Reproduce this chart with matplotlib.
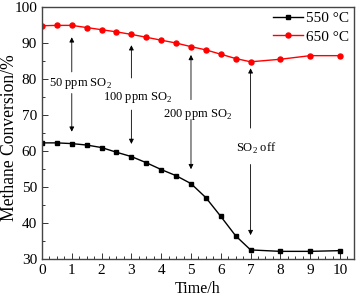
import matplotlib
matplotlib.use("Agg")
import matplotlib.pyplot as plt
from matplotlib.ticker import MultipleLocator

plt.rcParams['font.family'] = ['Liberation Serif', 'DejaVu Serif']
plt.rcParams['mathtext.fontset'] = 'custom'
plt.rcParams['mathtext.rm'] = 'Liberation Serif'

time_h = [0, 0.5, 1, 1.5, 2, 2.5, 3, 3.5, 4, 4.5, 5, 5.5, 6, 6.5, 7, 8, 9, 10]
conv_550 = [62.3, 62.3, 62.1, 61.7, 61.0, 59.7, 58.5, 56.8, 54.9, 53.2, 51.0, 47.1, 41.9, 36.5, 32.6, 32.2, 32.2, 32.4]
conv_650 = [94.8, 94.9, 94.9, 94.3, 93.7, 93.1, 92.4, 91.6, 90.8, 90.0, 89.0, 88.1, 86.9, 85.7, 84.8, 85.5, 86.5, 86.5]

labels = ['50 ppm SO$_2$', '100 ppm SO$_2$', '200 ppm SO$_2$', 'SO$_2$ off']
arrow_x = [1, 3, 5, 7]
text_xy = [(1.28, 78.1), (3.2, 74.2), (5.22, 69.4), (7.2, 59.8)]
up_from = [82.0, 80.3, 74.3, 66.4]
up_to = [91.6, 89.4, 86.7, 83.0]
down_from = [76.0, 71.4, 68.8, 56.3]
down_to = [65.4, 62.0, 55.0, 36.7]

fig = plt.figure(figsize=(3.57, 2.98), dpi=100)
ax = fig.add_axes([0.1176, 0.1299, 0.8740, 0.8466])

ax.plot(time_h, conv_550, color='black', marker='s', markersize=3.4, lw=1.0, label='550 °C')
ax.plot(time_h, conv_650, color='red', marker='o', markersize=3.6, lw=1.0, label='650 °C')

for x, lab, (tx, ty), uf, ut, df, dt in zip(arrow_x, labels, text_xy, up_from, up_to, down_from, down_to):
    ax.text(tx, ty, lab, ha='center', va='baseline', fontsize=9)
    ax.annotate('', xy=(x, ut), xytext=(x, uf),
                arrowprops=dict(arrowstyle='-|>', color='black', lw=0.6, mutation_scale=7, shrinkA=0, shrinkB=0))
    ax.annotate('', xy=(x, dt), xytext=(x, df),
                arrowprops=dict(arrowstyle='-|>', color='black', lw=0.6, mutation_scale=7, shrinkA=0, shrinkB=0))

ax.set_xlim(0, 10.47)
ax.set_ylim(30, 100)
ax.xaxis.set_major_locator(MultipleLocator(1))
ax.xaxis.set_minor_locator(MultipleLocator(0.25))
ax.yaxis.set_major_locator(MultipleLocator(10))
ax.yaxis.set_minor_locator(MultipleLocator(5))
ax.tick_params(which='both', direction='in', labelsize=11, width=0.7, color='#333333')
ax.tick_params(which='major', length=4)
ax.tick_params(which='minor', length=2)
for s in ax.spines.values():
    s.set_color('#444444')
    s.set_linewidth(1.0)

ax.set_xlabel('Time/h', fontsize=11.5, labelpad=3)
fig.text(10 / 357, 1 - 138 / 298, 'Methane Conversion/%', rotation=90,
         ha='center', va='center', fontsize=12.7)

ax.legend(loc='upper right', frameon=False, fontsize=11, handlelength=2.0,
          borderaxespad=0.1, borderpad=0.2, labelspacing=0.3, handletextpad=0.2)

fig.savefig('out.png', dpi=100)
